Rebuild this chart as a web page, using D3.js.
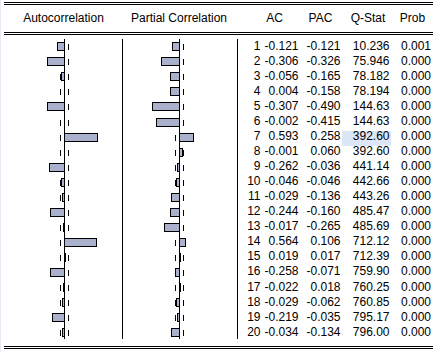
<!DOCTYPE html>
<html>
<head>
<meta charset="utf-8">
<script src="https://cdn.jsdelivr.net/npm/d3@7"></script>
<style>
  body { margin: 0; background: #fff; }
  svg { display: block; font-family: Arial, "Liberation Sans", sans-serif; font-size: 12px; }
</style>
</head>
<body>
<div id="chart"></div>
<script>
// Correlogram values
const lags = [1, 2, 3, 4, 5, 6, 7, 8, 9, 10, 11, 12, 13, 14, 15, 16, 17, 18, 19, 20];
const ac   = [-0.121, -0.306, -0.056, 0.004, -0.307, -0.002, 0.593, -0.001, -0.262, -0.046,
              -0.029, -0.244, -0.017, 0.564, 0.019, -0.258, -0.022, -0.029, -0.219, -0.034];
const pac  = [-0.121, -0.326, -0.165, -0.158, -0.490, -0.415, 0.258, 0.060, -0.036, -0.046,
              -0.136, -0.160, -0.265, 0.106, 0.017, -0.071, 0.018, -0.062, -0.035, -0.134];
const qstat = ["10.236", "75.946", "78.182", "78.194", "144.63", "144.63", "392.60", "392.60", "441.14", "442.66",
               "443.26", "485.47", "485.69", "712.12", "712.39", "759.90", "760.25", "760.85", "795.17", "796.00"];
const prob = ["0.001", "0.000", "0.000", "0.000", "0.000", "0.000", "0.000", "0.000", "0.000", "0.000",
              "0.000", "0.000", "0.000", "0.000", "0.000", "0.000", "0.000", "0.000", "0.000", "0.000"];
const band = 0.076;          // approx. 2/sqrt(T)
const selectedLag = 7;       // highlighted Q-Stat cell

const W = 436, H = 352;
const svg = d3.select("#chart").append("svg")
  .attr("width", W).attr("height", H)
  .attr("shape-rendering", "crispEdges");

// pale strip on left edge
svg.append("rect").attr("x", 0).attr("y", 0).attr("width", 1).attr("height", H).attr("fill", "#e4e9f3");

// Scales
const y = d3.scaleLinear().domain([1, 20]).range([47.3, 47.3 + 19 * 15.05]);
const xAC = d3.scaleLinear().domain([-1, 1]).range([8.5, 120.5]);
const xPAC = d3.scaleLinear().domain([-1, 1]).range([123.5, 235.5]);
const px = v => Math.round(v - 0.5) + 0.5;

// Horizontal double rules
[2.5, 4.5, 32.5, 34.5, 346.5, 348.5].forEach(yy => {
  svg.append("line").attr("x1", 4).attr("x2", 433).attr("y1", yy).attr("y2", yy)
    .attr("stroke", "#000").attr("stroke-width", 1);
});

// Headers
const headers = [
  {t: "Autocorrelation", x: 63.5},
  {t: "Partial Correlation", x: 179},
  {t: "AC", x: 274.5},
  {t: "PAC", x: 320.5},
  {t: "Q-Stat", x: 368},
  {t: "Prob", x: 412.5}
];
svg.append("g").selectAll("text").data(headers).join("text")
  .attr("x", d => d.x).attr("y", 21.5)
  .attr("text-anchor", "middle").attr("fill", "#000")
  .text(d => d.t);

// Vertical separators
[122.5, 237.5].forEach(xx => {
  svg.append("line").attr("x1", xx).attr("x2", xx).attr("y1", 39).attr("y2", 339)
    .attr("stroke", "#000");
});

function panel(scale, values) {
  const g = svg.append("g");
  // dashed bounds, one dash per row
  [-band, band].forEach(b => {
    g.append("g").selectAll("line").data(lags).join("line")
      .attr("x1", px(scale(b))).attr("x2", px(scale(b)))
      .attr("y1", d => Math.round(y(d)) - 3).attr("y2", d => Math.round(y(d)) + 3)
      .attr("stroke", "#000");
  });
  // bars
  g.append("g").selectAll("rect").data(values).join("rect")
    .attr("x", d => px(Math.min(scale(d), scale(0))))
    .attr("width", d => Math.max(0.01, Math.round(Math.abs(scale(d) - scale(0)))))
    .attr("y", (d, i) => Math.round(y(lags[i])) - 4.5)
    .attr("height", 8)
    .attr("fill", "#a9b1cc")
    .attr("stroke", "#000");
  // zero axis
  g.append("line").attr("x1", px(scale(0))).attr("x2", px(scale(0)))
    .attr("y1", 39).attr("y2", 339).attr("stroke", "#000");
}
panel(xAC, ac);
panel(xPAC, pac);

// highlight cell
svg.append("rect")
  .attr("x", 342).attr("width", 49)
  .attr("y", Math.round(y(selectedLag)) - 7).attr("height", 15)
  .attr("fill", "#dce6f7");

// Table text
const rows = lags.map((l, i) => ({lag: l, ac: ac[i], pac: pac[i], q: qstat[i], p: prob[i]}));
const cols = [
  {x: 260.5, f: d => d.lag},
  {x: 298.5, f: d => d.ac.toFixed(3)},
  {x: 340.5, f: d => d.pac.toFixed(3)},
  {x: 389.5, f: d => d.q},
  {x: 431, f: d => d.p}
];
const tg = svg.append("g").attr("fill", "#000").attr("text-anchor", "end");
cols.forEach(c => {
  tg.append("g").selectAll("text").data(rows).join("text")
    .attr("x", c.x)
    .attr("y", d => y(d.lag) + 2.4)
    .text(c.f);
});
</script>
</body>
</html>
